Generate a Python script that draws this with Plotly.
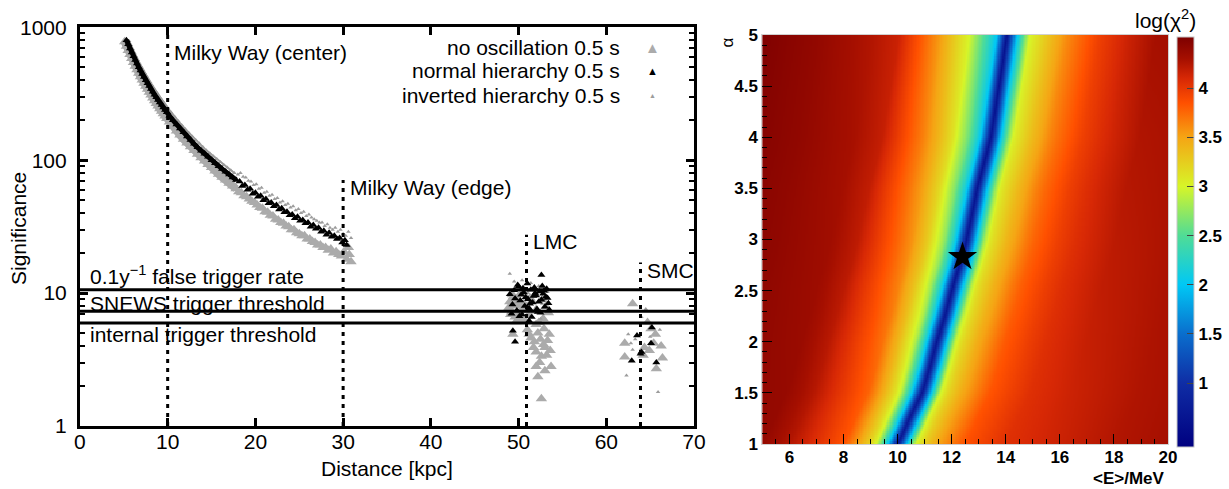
import numpy as np
import plotly.graph_objects as go

W, H = 1229, 489
FONT = "Liberation Sans, Arial, Helvetica, sans-serif"

# ---------------- significance vs. distance ----------------
# Milky Way part of each series where the points pack into a band
noosc_mw_dist = [5.1, 5.3, 5.5, 5.7, 5.9, 6.1, 6.3, 6.5, 6.7, 6.9, 7.1, 7.3, 7.5, 7.7, 7.9, 8.1, 8.3, 8.5,
                 8.7, 8.9, 9.1, 9.3, 9.5, 9.7, 9.9, 10.2, 10.6, 11.0, 11.4, 11.8, 12.2, 12.6, 13.0, 13.4,
                 13.8, 14.2, 14.6, 15.0, 15.4, 15.8, 16.2, 16.6, 17.0, 17.4, 17.8]
noosc_mw_sig = [778, 720, 669, 623, 582, 544, 510, 479, 451, 425, 402, 380, 360, 342, 324, 309, 294, 280,
                267, 256, 244, 234, 224, 215, 206, 194, 179, 166, 155, 144, 135, 126, 118.5, 111,
                104.5, 98.5, 93, 88, 83, 78.5, 74.5, 71, 67, 64, 61]

normal_mw_dist = [5.3, 5.5, 5.7, 5.9, 6.1, 6.3, 6.5, 6.7, 6.9, 7.1, 7.3, 7.5, 7.7, 7.9, 8.1, 8.3, 8.5, 8.7,
                  8.9, 9.1, 9.3, 9.5, 9.7, 9.9, 10.2, 10.6, 11.0, 11.4, 11.8, 12.2, 12.6, 13.0, 13.4, 13.8,
                  14.2, 14.6, 15.0, 15.4, 15.8, 16.2, 16.6, 17.0, 17.4, 17.8]
normal_mw_sig = [800, 744, 692, 646, 605, 567, 533, 501, 473, 446, 422, 400, 380, 361, 343, 327, 311, 297,
                 284, 272, 260, 249, 239, 230, 216, 200, 186, 173, 162, 151, 142, 133, 125, 118,
                 112, 106, 100, 95, 90, 86, 82, 78, 74, 71]

inverted_mw_dist = [5.6, 5.8, 6.0, 6.2, 6.4, 6.6, 6.8, 7.0, 7.2, 7.4, 7.6, 7.8, 8.0, 8.2, 8.4, 8.6, 8.8, 9.0,
                    9.2, 9.4, 9.6, 9.8, 10.0, 10.4, 10.8, 11.2, 11.6, 12.0, 12.4, 12.8, 13.2, 13.6, 14.0,
                    14.4, 14.8, 15.2, 15.6, 16.0, 16.4, 16.8, 17.2, 17.6]
inverted_mw_sig = [790, 736, 688, 644, 604, 568, 535, 505, 477, 452, 428, 407, 387, 368, 351, 335, 320, 306,
                   292, 280, 269, 258, 248, 229, 212, 197, 184, 172, 161, 151, 142, 134, 126,
                   119, 113, 107, 102, 97, 92, 88, 84, 80]

# Milky Way far side, individual points
noosc_far_dist = [18.1, 18.4, 18.7, 19.0, 19.3, 19.6, 19.9, 20.2, 20.5, 20.8, 21.1, 21.4, 21.7, 22.0, 22.3,
                  22.6, 22.9, 23.2, 23.5, 23.8, 24.1, 24.4, 24.7, 25.0, 25.3, 25.6, 25.9, 26.2, 26.5,
                  26.8, 27.1, 27.4, 27.7, 28.0, 28.3, 28.6, 28.9, 29.2, 29.5, 29.8, 30.1, 30.4, 30.7,
                  30.9, 30.6]
noosc_far_sig = [58, 57, 54, 53, 51, 49, 48, 46, 44, 43.5, 41, 40.5, 38.5, 38, 36, 35.5, 34, 33.5, 32, 31.5,
                 30, 30, 28.5, 28, 27, 27, 25.5, 25.5, 24.5, 24, 23, 23, 22, 22, 21, 21.5, 20, 20.5, 19.5,
                 19, 20.5, 18, 19.5, 17.2, 22]

normal_far_dist = [18.2, 18.5, 18.8, 19.1, 19.4, 19.7, 20.0, 20.3, 20.6, 20.9, 21.2, 21.5, 21.8, 22.1, 22.4,
                   22.7, 23.0, 23.3, 23.6, 23.9, 24.2, 24.5, 24.8, 25.1, 25.4, 25.7, 26.0, 26.3, 26.6,
                   26.9, 27.2, 27.5, 27.8, 28.1, 28.4, 28.7, 29.0, 29.3, 29.6, 29.9, 30.2, 30.4]
normal_far_sig = [69, 64, 65, 60, 61, 56, 57, 53, 54, 50, 51, 47.5, 48, 45, 46, 42.5, 43.5, 40.5, 41, 38.5,
                  39, 36.5, 37.5, 35, 35.5, 33.5, 34, 31.5, 32.5, 30.5, 31, 29, 29.5, 27.5, 28.5, 26.5,
                  27, 25.5, 26, 24, 25, 23]

inverted_far_dist = [18.0, 18.3, 18.6, 18.9, 19.2, 19.5, 19.8, 20.1, 20.4, 20.7, 21.0, 21.3, 21.6, 21.9,
                     22.2, 22.5, 22.8, 23.1, 23.4, 23.7, 24.0, 24.3, 24.6, 24.9, 25.2, 25.5, 25.8, 26.1,
                     26.4, 26.7, 27.0, 27.3, 27.6, 27.9, 28.2, 28.5, 28.8, 29.1, 29.4, 29.7, 30.0, 30.3,
                     30.6, 30.9]
inverted_far_sig = [78, 80, 75, 74, 70, 69, 65, 66, 61, 62, 57, 58, 54, 55, 51, 52, 48, 49, 46, 47, 44, 45,
                    42, 43, 40, 41, 38, 39, 37, 36, 35, 34, 34, 32, 33, 31, 30, 31, 29, 30, 28, 27, 29, 26]

# Large Magellanic Cloud
noosc_lmc_dist = [49.0, 49.2, 49.4, 49.6, 49.8, 50.0, 50.2, 50.4, 50.6, 50.8, 49.1, 49.5, 49.9, 50.3, 50.7,
                  51.1, 51.5, 51.9, 52.3, 52.7, 53.1, 49.3, 49.7, 50.1, 50.5, 51.3, 52.0, 52.8, 53.4, 48.9,
                  52.0, 53.0, 53.7, 52.2, 53.2, 52.6, 51.8, 53.5, 52.2, 51.4, 52.85, 52.0, 49.35, 52.6,
                  51.0, 52.5, 53.3, 51.7, 52.4, 53.0, 51.2, 52.9, 53.6]
noosc_lmc_sig = [8.6, 7.2, 9.4, 6.6, 8.1, 7.0, 9.9, 6.3, 8.4, 7.6, 6.9, 8.0, 9.0, 7.4, 10.3, 6.8, 8.7, 7.3,
                 6.0, 8.9, 7.9, 9.7, 6.1, 8.3, 6.5, 9.2, 5.8, 6.4, 7.1, 7.8,
                 2.8, 2.6, 2.8, 2.35, 3.4, 3.35, 4.3, 4.9, 5.0, 4.6, 4.1, 3.6, 4.9, 1.6, 5.3, 4.5, 4.4,
                 3.9, 3.0, 3.9, 4.9, 5.4, 3.7]

normal_lmc_dist = [49.0, 49.3, 49.5, 49.8, 50.0, 50.2, 50.4, 50.6, 50.8, 51.0, 51.2, 51.4, 51.6, 51.8, 52.0,
                   52.2, 52.4, 52.6, 52.8, 53.0, 53.2, 53.4, 49.2, 49.6, 49.9, 50.3, 50.7, 51.1, 51.5,
                   51.9, 52.3, 52.7, 53.1, 53.5, 50.5, 51.3, 52.1, 52.9, 50.1, 51.7, 52.5, 53.3, 52.6,
                   49.6, 49.35, 51.2]
normal_lmc_sig = [9.8, 8.2, 10.5, 7.4, 11.2, 8.8, 6.9, 10.1, 9.3, 11.8, 7.7, 10.6, 8.5, 11.0, 9.6, 7.2,
                  10.3, 8.9, 9.9, 7.9, 10.8, 8.4, 7.0, 9.1, 11.5, 9.7, 8.0, 9.0, 6.6, 10.0, 8.6, 11.3, 9.4,
                  7.5, 10.9, 8.3, 7.6, 10.4, 6.7, 9.5, 7.1, 9.2, 13.7, 4.3, 5.2, 6.2]

inverted_lmc_dist = [49.0, 49.5, 50.2, 50.9, 51.6, 52.3, 53.0, 49.8, 50.6, 51.4, 52.0, 52.7, 53.3, 49.3,
                     50.4, 51.1, 51.8, 52.5, 53.4, 50.0]
inverted_lmc_sig = [14, 12.2, 10.8, 9.6, 8.9, 11.3, 9.1, 8.6, 7.3, 11.9, 7.9, 8.3, 10.2, 9.8, 12.5, 6.8,
                    10.5, 6.4, 7.6, 6.9]

# Small Magellanic Cloud
noosc_smc_dist = [63.0, 64.7, 65.1, 65.6, 62.1, 65.4, 66.25, 64.35, 64.9, 62.1, 66.4, 65.7, 64.2]
noosc_smc_sig = [8.3, 6.0, 5.4, 4.9, 4.2, 4.2, 4.0, 3.9, 3.7, 3.3, 3.25, 2.7, 3.4]
normal_smc_dist = [65.2, 63.5, 65.1, 63.9, 62.9, 65.7, 64.0]
normal_smc_sig = [5.5, 4.8, 4.2, 3.5, 3.1, 3.0, 3.6]
inverted_smc_dist = [64.5, 62.5, 62.8, 63.0, 62.3, 65.9, 66.1, 64.0, 63.3, 65.0]
inverted_smc_sig = [7.6, 4.9, 4.2, 3.75, 2.4, 1.8, 5.3, 6.6, 4.5, 4.7]

series_names = ["no oscillation 0.5 s", "normal hierarchy 0.5 s", "inverted hierarchy 0.5 s"]

# source distances [kpc] and the significance up to which their markers reach
source_names = ["Milky Way (center)", "Milky Way (edge)", "LMC", "SMC"]
source_dist = [10.0, 30.0, 50.9, 63.9]
source_top = [950, 71, 27.5, 17]

# trigger levels
trigger_names = ["0.1y<sup>\u22121</sup> false trigger rate", "SNEWS trigger threshold",
                 "internal trigger threshold"]
trigger_sig = [10.6, 7.3, 5.95]

# ---------------- chi-square scan over <E> and alpha ----------------
alpha_rows = [1.0, 1.25, 1.5, 1.75, 2.0, 2.25, 2.5, 2.75, 3.0, 3.25, 3.5, 3.75, 4.0, 4.25, 4.5, 4.75, 5.0]
valley_energy = [10.0, 10.45, 10.9, 11.2, 11.45, 11.75, 12.0, 12.3, 12.55, 12.75, 12.95, 13.2, 13.45,
                 13.6, 13.75, 13.9, 14.05]
# log(chi2) across the valley, offset from its minimum in MeV, at alpha = 1 and alpha = 5
profile_offset_low = [-15, -5, -4, -3, -2, -1.5, -1.0, -0.8, -0.55, -0.36, -0.22, -0.09, 0, 0.09, 0.22,
                      0.36, 0.5, 0.68, 1.0, 1.5, 2.5, 4, 6, 8, 10, 15]
profile_logchi2_low = [4.55, 4.4, 4.25, 4.05, 3.85, 3.55, 3.2, 3.0, 2.5, 2.0, 1.5, 1.0, 0.7, 1.0, 1.5,
                       2.0, 2.5, 3.0, 3.25, 3.5, 3.85, 4.05, 4.15, 4.25, 4.3, 4.3]
profile_offset_high = [-15, -9, -7, -5, -4, -3.5, -2.5, -1.4, -0.85, -0.38, -0.24, -0.1, 0, 0.1, 0.24,
                       0.38, 0.6, 0.85, 1.5, 2.2, 3.4, 4.5, 5.5, 10, 15]
profile_logchi2_high = [4.55, 4.5, 4.4, 4.25, 4.15, 3.95, 3.55, 3.0, 2.5, 2.0, 1.5, 1.0, 0.6, 1.0, 1.5,
                        2.0, 2.5, 3.0, 3.3, 3.6, 3.95, 4.15, 4.3, 4.35, 4.35]
best_fit_energy = [12.4]
best_fit_alpha = [2.83]

z_min, z_max = 0.35, 4.52
scale_values = [0.35, 1.0, 1.5, 2.0, 2.5, 3.0, 3.5, 3.85, 4.1, 4.3, 4.52]
scale_colors = ["rgb(0,0,128)", "rgb(15,45,165)", "rgb(10,110,205)", "rgb(0,200,245)", "rgb(80,220,150)",
                "rgb(215,245,40)", "rgb(245,165,20)", "rgb(255,80,0)", "rgb(215,40,5)", "rgb(165,15,0)",
                "rgb(125,0,0)"]

# ---------------- build the figure ----------------
fig = go.Figure()

styles = [
    dict(color="#ababab", size=10, width=8),   # no oscillation
    dict(color="#000000", size=7, width=5),    # normal hierarchy
    dict(color="#9c9c9c", size=4, width=2),    # inverted hierarchy
]
mw_parts = [(noosc_mw_dist, noosc_mw_sig), (normal_mw_dist, normal_mw_sig), (inverted_mw_dist, inverted_mw_sig)]
far_parts = [
    (noosc_far_dist + noosc_lmc_dist + noosc_smc_dist, noosc_far_sig + noosc_lmc_sig + noosc_smc_sig),
    (normal_far_dist + normal_lmc_dist + normal_smc_dist, normal_far_sig + normal_lmc_sig + normal_smc_sig),
    (inverted_far_dist + inverted_lmc_dist + inverted_smc_dist,
     inverted_far_sig + inverted_lmc_sig + inverted_smc_sig),
]

for idx in [0, 2, 1]:
    st = styles[idx]
    d, s = mw_parts[idx]
    fig.add_trace(go.Scatter(
        x=d, y=s, mode="lines+markers", name=series_names[idx], showlegend=False, hoverinfo="skip",
        line=dict(color=st["color"], width=st["width"]),
        marker=dict(symbol="triangle-up", size=st["size"], color=st["color"], line=dict(width=0)),
        xaxis="x", yaxis="y"))
    d, s = far_parts[idx]
    fig.add_trace(go.Scatter(
        x=d, y=s, mode="markers", name=series_names[idx], showlegend=False, hoverinfo="skip",
        marker=dict(symbol="triangle-up", size=st["size"], color=st["color"], line=dict(width=0)),
        xaxis="x", yaxis="y"))

for lvl in trigger_sig:
    fig.add_trace(go.Scatter(x=[0, 70], y=[lvl, lvl], mode="lines", showlegend=False, hoverinfo="skip",
                             line=dict(color="black", width=3), xaxis="x", yaxis="y"))

for d, top in zip(source_dist, source_top):
    fig.add_trace(go.Scatter(x=[d, d], y=[1, top], mode="lines", showlegend=False, hoverinfo="skip",
                             line=dict(color="black", width=3, dash="4px,5px"), xaxis="x", yaxis="y"))

# chi-square map
energy_cells = np.linspace(5, 20, 301)
alpha_cells = np.linspace(1, 5, 201)
z = []
for a in alpha_cells:
    center = np.interp(a, alpha_rows, valley_energy)
    f = (a - 1.0) / 4.0
    off = energy_cells - center
    low = np.interp(off, profile_offset_low, profile_logchi2_low)
    high = np.interp(off, profile_offset_high, profile_logchi2_high)
    z.append((1 - f) * low + f * high)

colorscale = [[(v - z_min) / (z_max - z_min), c] for v, c in zip(scale_values, scale_colors)]
bar_ticks = [1, 1.5, 2, 2.5, 3, 3.5, 4]

fig.add_trace(go.Heatmap(
    x=energy_cells, y=alpha_cells, z=z, zmin=z_min, zmax=z_max, colorscale=colorscale,
    xaxis="x2", yaxis="y2", hoverinfo="skip",
    colorbar=dict(
        x=1177 / W, xanchor="left", xpad=0, y=1 - 447 / H, yanchor="bottom", ypad=0,
        len=410 / H, lenmode="fraction", thickness=17, thicknessmode="pixels",
        outlinewidth=1, outlinecolor="#c8c8c8",
        tickmode="array", tickvals=bar_ticks, ticktext=[f"{t:g}" for t in bar_ticks],
        ticks="inside", ticklen=7, tickwidth=1, tickcolor="#444444",
        tickfont=dict(family=FONT, size=17, color="black", weight="bold"),
    ),
))

fig.add_trace(go.Scatter(
    x=best_fit_energy, y=best_fit_alpha, mode="markers", showlegend=False, hoverinfo="skip",
    marker=dict(symbol="star", size=22, color="black", line=dict(width=0)),
    xaxis="x2", yaxis="y2"))

# ---------------- axes ----------------
tick_font = dict(family=FONT, size=21, color="black")
bold_font = dict(family=FONT, size=17, color="black", weight="bold")
minor_log = [m * 10 ** e for e in range(0, 3) for m in range(2, 10)]

fig.update_layout(
    width=W, height=H, margin=dict(l=0, r=0, t=0, b=0, pad=0),
    paper_bgcolor="white", plot_bgcolor="white", showlegend=False,
    xaxis=dict(
        domain=[80 / W, 694.6 / W], anchor="y", range=[0, 70],
        tickmode="array", tickvals=[0, 10, 20, 30, 40, 50, 60, 70],
        ticks="inside", ticklen=8, tickwidth=2.5, tickcolor="black",
        showline=True, linewidth=3, linecolor="black", mirror="ticks",
        showgrid=False, zeroline=False, tickfont=tick_font, ticklabelstandoff=-5, automargin=False,
    ),
    yaxis=dict(
        domain=[1 - 426 / H, 1 - 27.3 / H], anchor="x", type="log", range=[0, 3],
        tickmode="array", tickvals=[1, 10, 100, 1000], ticktext=["1", "10", "100", "1000"],
        ticks="inside", ticklen=8, tickwidth=2.5, tickcolor="black",
        minor=dict(tickmode="array", tickvals=minor_log, ticks="inside", ticklen=5, tickwidth=2,
                   tickcolor="black", showgrid=False),
        showline=True, linewidth=3, linecolor="black", mirror="ticks",
        showgrid=False, zeroline=False, tickfont=tick_font, ticklabelstandoff=6, automargin=False,
    ),
    xaxis2=dict(
        domain=[763 / W, 1169 / W], anchor="y2", range=[5, 20],
        tickmode="array", tickvals=[6, 8, 10, 12, 14, 16, 18, 20],
        ticks="inside", ticklen=10, tickwidth=1, tickcolor="black",
        minor=dict(ticks="inside", dtick=0.5, tick0=5, ticklen=5, tickwidth=1, tickcolor="black",
                   showgrid=False),
        showline=True, linewidth=1, linecolor="#d0d0d0", mirror=True,
        showgrid=False, zeroline=False, tickfont=bold_font, ticklabelstandoff=-2, automargin=False,
    ),
    yaxis2=dict(
        domain=[1 - 444 / H, 1 - 35 / H], anchor="x2", range=[1, 5],
        tickmode="array", tickvals=[1, 1.5, 2, 2.5, 3, 3.5, 4, 4.5, 5],
        ticktext=["1", "1.5", "2", "2.5", "3", "3.5", "4", "4.5", "5"],
        ticks="inside", ticklen=10, tickwidth=1, tickcolor="black",
        minor=dict(ticks="inside", dtick=0.1, tick0=1, ticklen=5, tickwidth=1, tickcolor="black",
                   showgrid=False),
        showline=True, linewidth=1, linecolor="#d0d0d0", mirror=True,
        showgrid=False, zeroline=False, tickfont=bold_font, ticklabelstandoff=0, automargin=False,
    ),
)


def label(text, x, y, size=21, xanchor="left", color="black", angle=0, bold=False):
    fig.add_annotation(
        text=text, x=x / W, y=1 - y / H, xref="paper", yref="paper", showarrow=False,
        xanchor=xanchor, yanchor="middle", textangle=angle,
        font=dict(family=FONT, size=size, color=color, weight="bold" if bold else "normal"))


# source and trigger labels
source_label_pos = [(172, 53), (348, 187), (531, 242), (646, 270)]
for name, (lx, ly) in zip(source_names, source_label_pos):
    label(name, lx, ly)
trigger_label_pos = [(88, 275), (88, 303), (88, 334)]
for name, (lx, ly) in zip(trigger_names, trigger_label_pos):
    label(name, lx, ly)

# legend
legend_rows = [47, 71, 95]
legend_symbol = [("#ababab", 15), ("#000000", 11), ("#9c9c9c", 7)]
for name, ly, (col, sz) in zip(series_names, legend_rows, legend_symbol):
    label(name, 623, ly, xanchor="right")
    label("\u25b2", 653, ly, size=sz, xanchor="center", color=col)

# axis titles
label("Significance", 18, 228, xanchor="center", angle=-90)
label("Distance [kpc]", 387, 468, xanchor="center")
label("\u03b1", 729, 42, size=17, xanchor="center", angle=-90)
label("<E>/MeV", 1168, 478, size=17, xanchor="right", bold=True)
label("log(\u03c7<sup>2</sup>)", 1166, 19, size=21, xanchor="center")

fig.write_html("out.html")
